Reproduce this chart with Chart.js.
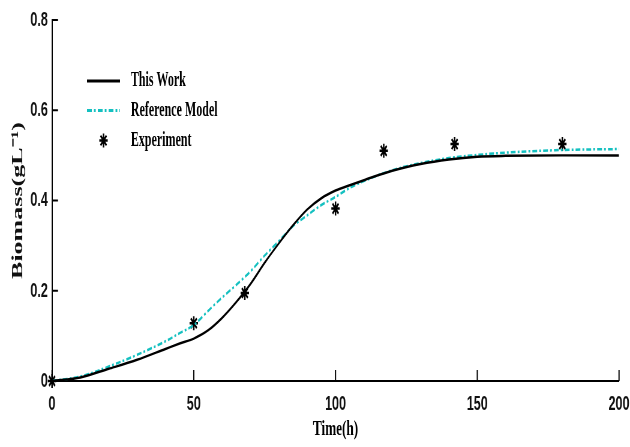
<!DOCTYPE html>
<html>
<head>
<meta charset="utf-8">
<script src="https://cdn.jsdelivr.net/npm/chart.js@4/dist/chart.umd.min.js"></script>
<style>
  html, body { margin: 0; padding: 0; background: #fff; overflow: hidden; }
  #c { display: block; }
</style>
</head>
<body>
<canvas id="c" width="1050" height="447" style="width:630px;height:447px"></canvas>
<script>
// ---- data ----
const timeH = [0, 10, 20, 30, 40, 45, 50, 55, 60, 65, 70, 75, 80, 85, 90, 95, 100, 105, 110, 120, 130, 140, 150, 160, 180, 200];
const thisWork = [0, 0.008, 0.027, 0.047, 0.071, 0.083, 0.094, 0.112, 0.14, 0.175, 0.215, 0.262, 0.305, 0.345, 0.38, 0.405, 0.422, 0.434, 0.445, 0.466, 0.481, 0.491, 0.497, 0.499, 0.5, 0.5];
const referenceModel = [0, 0.01, 0.032, 0.058, 0.088, 0.106, 0.124, 0.155, 0.185, 0.213, 0.243, 0.278, 0.31, 0.343, 0.367, 0.39, 0.408, 0.428, 0.443, 0.467, 0.483, 0.494, 0.501, 0.506, 0.512, 0.514];
const expTime = [0, 50, 68, 100, 117, 142, 180];
const expBiomass = [0, 0.128, 0.195, 0.382, 0.51, 0.525, 0.525];
const xTicks = [0, 50, 100, 150, 200];
const yTicks = [0, 0.2, 0.4, 0.6, 0.8];
const seriesNames = ['This Work', 'Reference Model', 'Experiment'];

const TEAL = '#14c0c0';
const DASHDOT = [8, 3.5, 3, 3.5];

const toXY = (xs, ys) => xs.map((x, i) => ({ x: x, y: ys[i] }));

const inwardTicks = {
  id: 'inwardTicks',
  afterDraw(chart) {
    const { ctx, chartArea: a, scales: { x, y } } = chart;
    ctx.save();
    ctx.strokeStyle = '#000';
    ctx.lineWidth = 2;
    x.ticks.forEach(t => {
      const px = x.getPixelForValue(t.value);
      ctx.beginPath(); ctx.moveTo(px, a.bottom); ctx.lineTo(px, a.bottom - 11); ctx.stroke();
    });
    y.ticks.forEach(t => {
      const py = y.getPixelForValue(t.value);
      ctx.beginPath(); ctx.moveTo(a.left, py); ctx.lineTo(a.left + 10, py); ctx.stroke();
    });
    ctx.restore();
  }
};

const customLegend = {
  id: 'customLegend',
  afterDraw(chart) {
    const ctx = chart.ctx;
    const ds = chart.data.datasets;
    const x0 = 145, x1 = 200, tx = 218;
    const rows = [81, 110.5, 140.5];
    ctx.save();
    ctx.font = 'bold 20px "Liberation Serif", "Times New Roman", serif';
    ctx.textBaseline = 'middle';
    ctx.textAlign = 'left';
    ds.forEach((d, i) => {
      const yy = rows[i];
      if (d.showLine === false) {
        const r = 7;
        ctx.strokeStyle = d.borderColor;
        ctx.lineWidth = 2.5;
        const cx = (x0 + x1) / 2;
        ctx.beginPath();
        for (let k = 0; k < 4; k++) {
          const ang = k * Math.PI / 4;
          ctx.moveTo(cx + r * Math.sin(ang), yy - r * Math.cos(ang));
          ctx.lineTo(cx - r * Math.sin(ang), yy + r * Math.cos(ang));
        }
        ctx.stroke();
      } else {
        ctx.strokeStyle = d.borderColor;
        ctx.lineWidth = 3;
        ctx.setLineDash(d.borderDash || []);
        ctx.beginPath(); ctx.moveTo(x0, yy); ctx.lineTo(x1, yy); ctx.stroke();
        ctx.setLineDash([]);
      }
      ctx.fillStyle = '#000';
      ctx.fillText(d.label, tx, yy);
    });
    ctx.restore();
  }
};

new Chart(document.getElementById('c'), {
  type: 'line',
  data: {
    datasets: [
      {
        label: seriesNames[0],
        data: toXY(timeH, thisWork),
        borderColor: '#000',
        borderWidth: 2.5,
        pointRadius: 0,
        fill: false,
        cubicInterpolationMode: 'monotone'
      },
      {
        label: seriesNames[1],
        data: toXY(timeH, referenceModel),
        borderColor: TEAL,
        borderWidth: 2.5,
        borderDash: DASHDOT,
        pointRadius: 0,
        fill: false,
        cubicInterpolationMode: 'monotone'
      },
      {
        label: seriesNames[2],
        data: toXY(expTime, expBiomass),
        showLine: false,
        borderColor: '#000',
        backgroundColor: '#000',
        pointStyle: 'star',
        pointRadius: 7,
        pointBorderWidth: 2.5,
        borderWidth: 2.5,
        clip: false
      }
    ]
  },
  options: {
    responsive: false,
    maintainAspectRatio: false,
    devicePixelRatio: 1,
    animation: false,
    layout: { padding: { left: 0, right: 18.3, top: 20, bottom: 0 } },
    plugins: { legend: { display: false }, tooltip: { enabled: false } },
    scales: {
      x: {
        type: 'linear',
        min: 0, max: 200,
        afterBuildTicks: s => { s.ticks = xTicks.map(v => ({ value: v })); },
        afterFit: s => { s.height = 66; s.paddingLeft = 0; s.paddingRight = 0; },
        grid: { display: false, drawTicks: false },
        border: { display: true, color: '#000', width: 2 },
        ticks: {
          color: '#111',
          padding: 11,
          maxRotation: 0,
          font: { family: '"Liberation Sans", Arial, sans-serif', weight: 'bold', size: 21 }
        },
        title: {
          display: true,
          text: 'Time(h)',
          color: '#000',
          padding: { top: 0, bottom: 4 },
          font: { family: '"Liberation Serif", "Times New Roman", serif', weight: 'bold', size: 22 }
        }
      },
      y: {
        type: 'linear',
        min: 0, max: 0.8,
        afterBuildTicks: s => { s.ticks = yTicks.map(v => ({ value: v })); },
        afterFit: s => { s.width = 86.7; s.paddingTop = 0; s.paddingBottom = 0; },
        grid: { display: false, drawTicks: false },
        border: { display: true, color: '#000', width: 2 },
        ticks: {
          color: '#111',
          padding: 7,
          font: { family: '"Liberation Sans", Arial, sans-serif', weight: 'bold', size: 21 }
        },
        title: {
          display: true,
          text: 'Biomass(gL⁻¹)',
          color: '#111',
          padding: { top: 15, bottom: 0 },
          font: { family: '"Liberation Serif", "Times New Roman", serif', weight: 'bold', size: 26 }
        }
      }
    }
  },
  plugins: [inwardTicks, customLegend]
});
</script>
</body>
</html>
